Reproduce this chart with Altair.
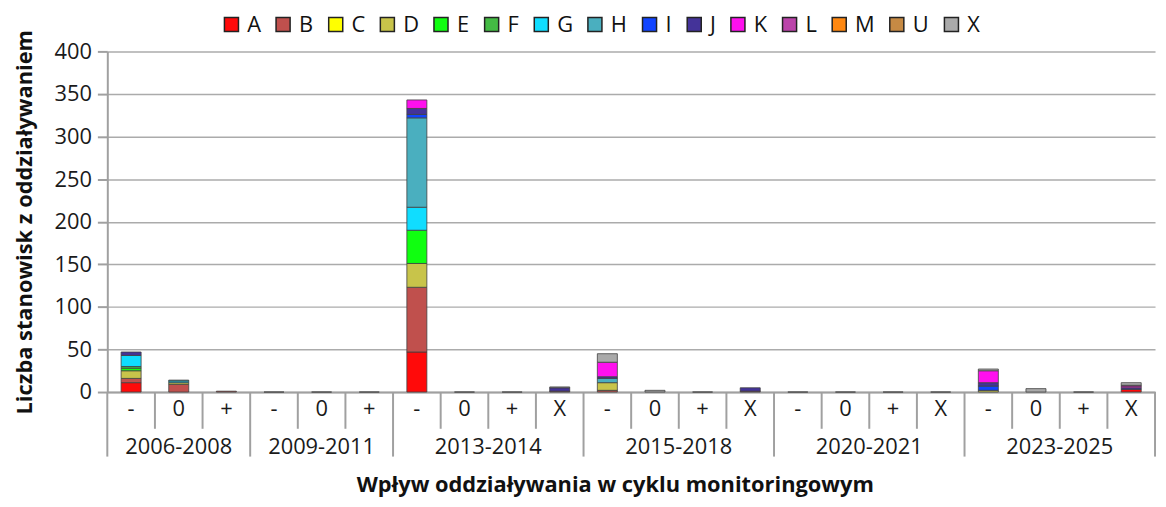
import altair as alt
import pandas as pd

FONT = "Open Sans"

groups = ["2006-2008", "2009-2011", "2013-2014", "2015-2018", "2020-2021", "2023-2025"]
group_subs = [
    ["-", "0", "+"],
    ["-", "0", "+"],
    ["-", "0", "+", "X"],
    ["-", "0", "+", "X"],
    ["-", "0", "+", "X"],
    ["-", "0", "+", "X"],
]
series = ["A", "B", "C", "D", "E", "F", "G", "H", "I", "J", "K", "L", "M", "U", "X"]
colors = ["#FF0A0A", "#C0504D", "#FFFF00", "#C8C44A", "#10FF10", "#44BB44", "#10DDFF",
          "#4AAFBF", "#1144FF", "#443399", "#FF10EE", "#BB44AA", "#FF8811", "#C68A44", "#AAAAAA"]

# 22 categories in order: 2006(-,0,+) 2009(-,0,+) 2013(-,0,+,X) 2015(-,0,+,X) 2020(-,0,+,X) 2023(-,0,+,X)
A = [11, 0, 0,  0, 0, 0,  47, 0, 0, 0,  0, 0, 0, 0,  0, 0, 0, 0,  0, 0, 0, 3]
B = [5, 9, 1,   0, 0, 0,  76, 0, 0, 1,  2, 0, 0, 1,  0, 0, 0, 0,  0, 0, 0, 0]
C = [0, 0, 0,   0, 0, 0,  0, 0, 0, 0,   0, 0, 0, 0,  0, 0, 0, 0,  0, 0, 0, 0]
D = [9, 2, 0,   0, 0, 0,  28, 0, 0, 0,  9, 0, 0, 0,  0, 0, 0, 0,  2, 0, 0, 0]
E = [3, 0, 0,   0, 0, 0,  39, 0, 0, 0,  0, 0, 0, 0,  0, 0, 0, 0,  0, 0, 0, 0]
F = [2, 0, 0,   0, 0, 0,  0, 0, 0, 0,   0, 0, 0, 0,  0, 0, 0, 0,  0, 0, 0, 0]
G = [13, 2, 0,  0, 0, 0,  27, 0, 0, 0,  0, 0, 0, 0,  0, 0, 0, 0,  0, 0, 0, 0]
H = [0, 1, 0,   0, 0, 0,  105, 0, 0, 0, 5, 0, 0, 0,  0, 0, 0, 0,  0, 0, 0, 0]
I = [0, 0, 0,   0, 0, 0,  4, 0, 0, 0,   0, 0, 0, 0,  0, 0, 0, 0,  5, 0, 0, 0]
J = [4, 0, 0,   0, 0, 0,  7, 0, 0, 4,   2, 0, 0, 4,  0, 0, 0, 0,  4, 0, 0, 2]
K = [0, 0, 0,   0, 0, 0,  10, 0, 0, 0,  17, 0, 0, 0, 0, 0, 0, 0,  14, 0, 0, 2]
L = [0, 0, 0,   0, 0, 0,  0, 0, 0, 0,   0, 0, 0, 0,  0, 0, 0, 0,  0, 0, 0, 1]
M = [0, 0, 0,   0, 0, 0,  0, 0, 0, 0,   0, 0, 0, 0,  0, 0, 0, 0,  0, 0, 0, 0]
U = [0, 0, 0,   0, 0, 0,  0, 0, 0, 0,   0, 0, 0, 0,  0, 0, 0, 0,  0, 0, 0, 0]
X = [0, 0, 0,   0, 0, 0,  0, 0, 0, 1,   10, 2, 0, 0, 0, 0, 0, 0,  2, 4, 0, 3]

values = {"A": A, "B": B, "C": C, "D": D, "E": E, "F": F, "G": G, "H": H, "I": I,
          "J": J, "K": K, "L": L, "M": M, "U": U, "X": X}

y_ticks = [0, 50, 100, 150, 200, 250, 300, 350, 400]
y_title = "Liczba stanowisk z oddziaływaniem"
x_title = "Wpływ oddziaływania w cyklu monitoringowym"

# ---- build tables ----
keys = []
group_start_keys = []
sub_sep_keys = []
label_odd = []
label_even = []
for g, subs in zip(groups, group_subs):
    gk = [f"{g}|{s}" for s in subs]
    keys.extend(gk)
    group_start_keys.append(gk[0])
    sub_sep_keys.extend(gk[1:])
    if len(gk) % 2 == 1:
        label_odd.append({"key": gk[len(gk) // 2], "group": g})
    else:
        label_even.append({"key": gk[len(gk) // 2], "group": g})

rows = []
for ci, k in enumerate(keys):
    total = 0
    for si, s in enumerate(series):
        v = values[s][ci]
        if v > 0:
            rows.append({"key": k, "series": s, "order": si, "value": v})
            total += v
    if total == 0:
        rows.append({"key": k, "series": "X", "order": 99, "value": 0})
df = pd.DataFrame(rows)

W, Hh = 1055, 343
xscale = alt.Scale(type="band", domain=keys, paddingInner=0, paddingOuter=0)
GRID = "#ABABAB"
AXC = "#A0A0A0"
FS = 22

x_axis = alt.Axis(labelExpr="split(datum.label, '|')[1]", labelAngle=0, ticks=False,
                  domainColor=AXC, domainWidth=2, labelFontSize=FS, labelPadding=7,
                  labelColor="#1a1a1a", grid=False,
                  title=x_title, titleFontSize=FS, titleFontWeight="bold",
                  titleColor="#111111", titleY=100, titleBaseline="alphabetic", titleX=511)

bars = alt.Chart(df).mark_bar(
    width=alt.RelativeBandSize(0.42), stroke="#404040", strokeWidth=0.8
).encode(
    x=alt.X("key:N", scale=xscale, sort=keys, axis=x_axis),
    y=alt.Y("value:Q", stack="zero", scale=alt.Scale(domain=[0, 400], nice=False),
            axis=alt.Axis(values=y_ticks, grid=True, gridColor=GRID, gridWidth=1.5,
                          domainColor=AXC, domainWidth=2, tickColor=AXC, tickWidth=2,
                          tickSize=10, labelPadding=6, labelFontSize=FS, labelColor="#1a1a1a",
                          title=y_title, titleFontSize=FS, titleFontWeight="bold",
                          titleColor="#111111", titleX=-83, titleY=Hh / 2,
                          titleBaseline="middle", titleAlign="center")),
    color=alt.Color("series:N", scale=alt.Scale(domain=series, range=colors),
                    legend=alt.Legend(title=None, orient="none", direction="horizontal",
                                      legendX=114, legendY=-38, symbolType="square",
                                      symbolSize=200, symbolStrokeColor="#222222",
                                      symbolStrokeWidth=1.5, labelFontSize=FS,
                                      labelColor="#111111", columnPadding=11, labelOffset=5,
                                      columns=15)),
    order=alt.Order("order:Q", sort="ascending"),
)

sub_df = pd.DataFrame({"key": sub_sep_keys})
grp_df = pd.DataFrame({"key": group_start_keys})
end_df = pd.DataFrame({"key": [keys[-1]]})

sub_rules = alt.Chart(sub_df).mark_rule(color=AXC, strokeWidth=2).encode(
    x=alt.X("key:N", scale=xscale, sort=keys, bandPosition=0, axis=x_axis),
    y=alt.value(Hh), y2=alt.value(Hh + 37))
grp_rules = alt.Chart(grp_df).mark_rule(color=AXC, strokeWidth=2).encode(
    x=alt.X("key:N", scale=xscale, sort=keys, bandPosition=0, axis=x_axis),
    y=alt.value(Hh), y2=alt.value(Hh + 65))
end_rule = alt.Chart(end_df).mark_rule(color=AXC, strokeWidth=2).encode(
    x=alt.X("key:N", scale=xscale, sort=keys, bandPosition=1, axis=x_axis),
    y=alt.value(Hh), y2=alt.value(Hh + 65))

lab_odd = alt.Chart(pd.DataFrame(label_odd)).mark_text(
    fontSize=FS, baseline="middle", color="#1a1a1a", font=FONT).encode(
    x=alt.X("key:N", scale=xscale, sort=keys, bandPosition=0.5, axis=x_axis),
    y=alt.value(Hh + 55), text="group:N")
lab_even = alt.Chart(pd.DataFrame(label_even)).mark_text(
    fontSize=FS, baseline="middle", color="#1a1a1a", font=FONT).encode(
    x=alt.X("key:N", scale=xscale, sort=keys, bandPosition=0, axis=x_axis),
    y=alt.value(Hh + 55), text="group:N")

chart = alt.layer(bars, sub_rules, grp_rules, end_rule, lab_odd, lab_even).properties(
    width=W, height=Hh,
    autosize=alt.AutoSizeParams(type="none"),
    padding={"left": 100, "top": 42, "right": 3, "bottom": 106},
).configure(font=FONT).configure_view(stroke=None).configure_axis(
    labelFont=FONT, titleFont=FONT).configure_legend(labelFont=FONT)

chart.save("out.html", embed_options={"renderer": "svg", "actions": False})
